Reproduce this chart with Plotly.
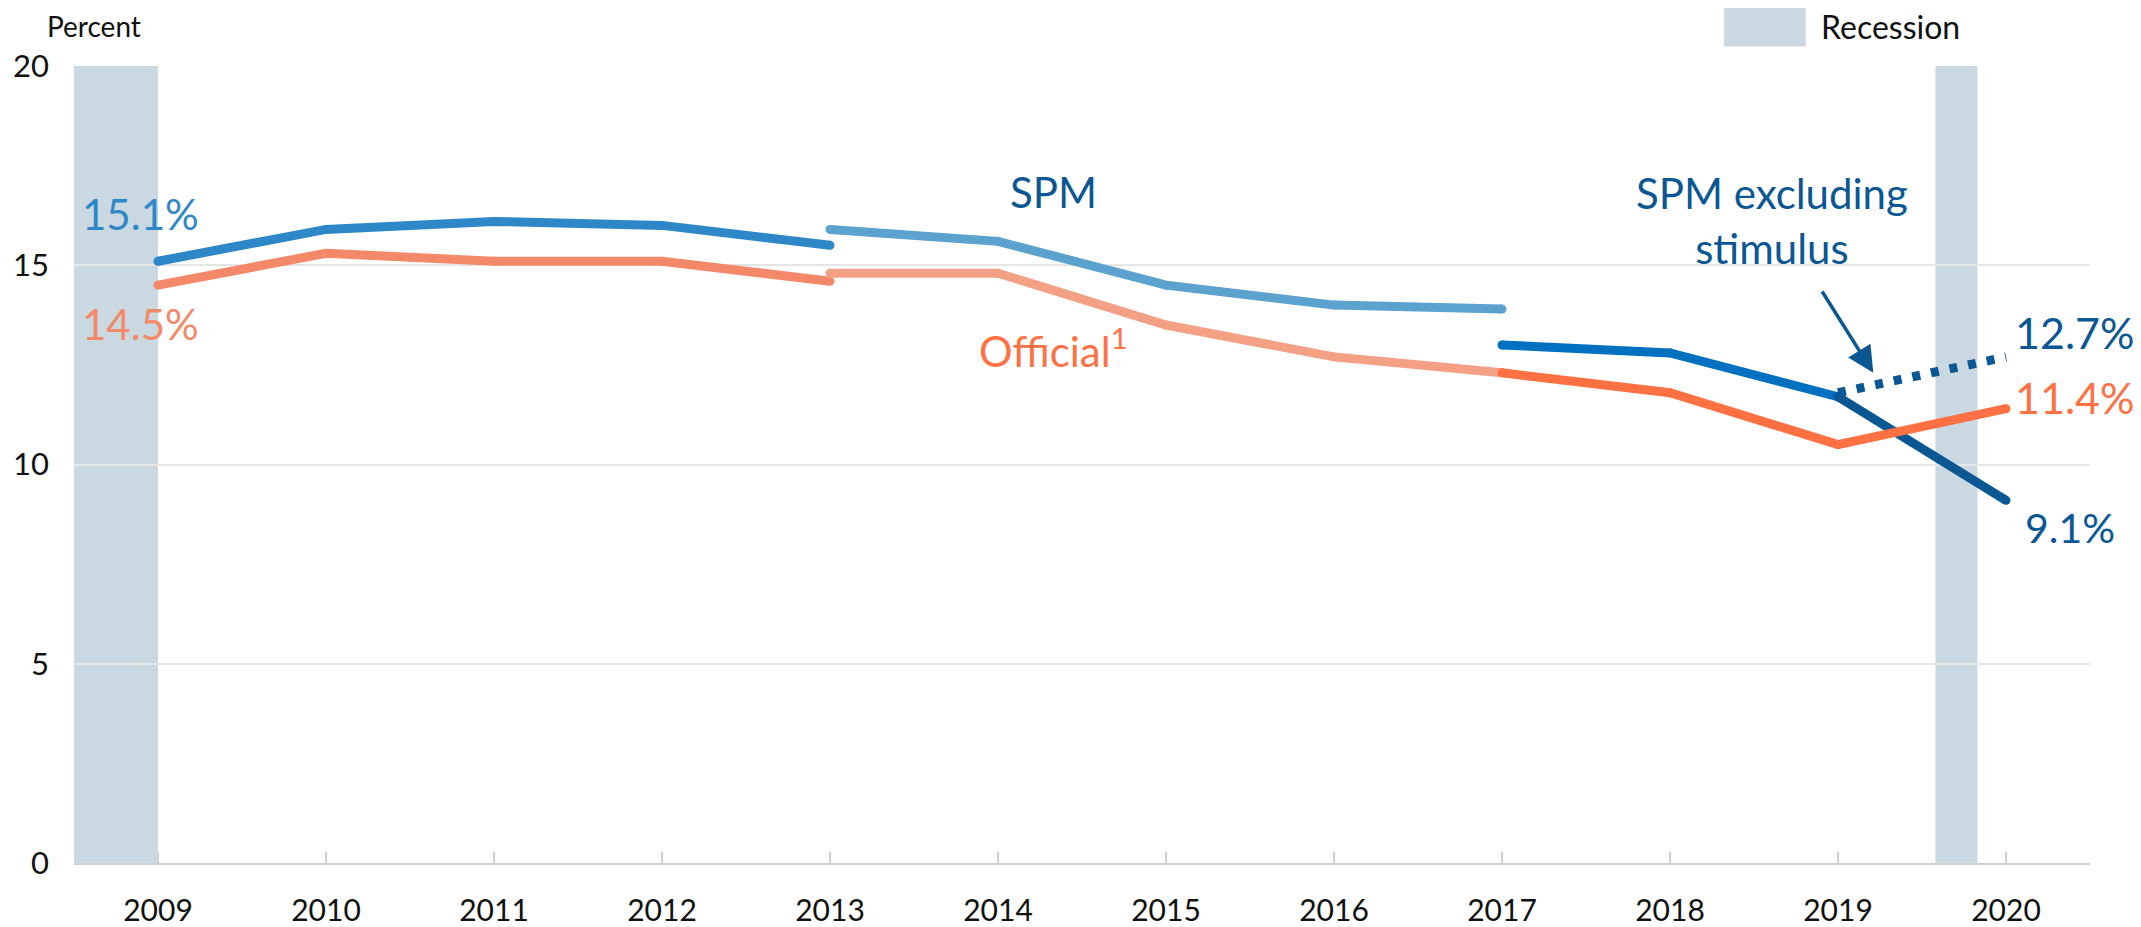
import plotly.graph_objects as go

# ---------------- data ----------------
spm_a_years = [2009, 2010, 2011, 2012, 2013]
spm_a_vals = [15.1, 15.9, 16.1, 16.0, 15.5]
spm_b_years = [2013, 2014, 2015, 2016, 2017]
spm_b_vals = [15.9, 15.6, 14.5, 14.0, 13.9]
spm_c_years = [2017, 2018, 2019]
spm_c_vals = [13.0, 12.8, 11.7]
spm_d_years = [2019, 2020]
spm_d_vals = [11.7, 9.1]
spm_excl_years = [2019, 2020]
spm_excl_vals = [11.8, 12.7]

off_a_years = [2009, 2010, 2011, 2012, 2013]
off_a_vals = [14.5, 15.3, 15.1, 15.1, 14.6]
off_b_years = [2013, 2014, 2015, 2016, 2017]
off_b_vals = [14.8, 14.8, 13.5, 12.7, 12.3]
off_c_years = [2017, 2018, 2019, 2020]
off_c_vals = [12.3, 11.8, 10.5, 11.4]

year_ticks = [2009, 2010, 2011, 2012, 2013, 2014, 2015, 2016, 2017, 2018, 2019, 2020]
year_labels = [str(y) for y in year_ticks]
y_ticks = [0, 5, 10, 15, 20]

recession_starts = [2008.5, 2019.58]
recession_ends = [2009.0, 2019.83]

# ---------------- style ----------------
FONT = "Lato"
C_SPM1 = "#2E88C8"
C_SPM2 = "#5CA2CF"
C_SPM3 = "#0070C0"
C_SPM4 = "#0B5794"
C_OFF1 = "#F4896A"
C_OFF2 = "#F4A085"
C_OFF3 = "#FF7043"
C_REC = "#C9D8E1"
LW = 9

fig = go.Figure()


def add_line(xs, ys, color, dash="solid", round_ends=True):
    fig.add_trace(go.Scatter(x=xs, y=ys, mode="lines+markers" if round_ends else "lines",
                             line=dict(color=color, width=LW, dash=dash),
                             marker=dict(size=LW, color=color, line=dict(width=0)),
                             hoverinfo="skip", showlegend=False))


add_line(spm_a_years, spm_a_vals, C_SPM1)
add_line(spm_b_years, spm_b_vals, C_SPM2)
add_line(spm_c_years, spm_c_vals, C_SPM3)
add_line(spm_excl_years, spm_excl_vals, C_SPM4, dash="8px,11px", round_ends=False)
add_line(off_a_years, off_a_vals, C_OFF1)
add_line(off_b_years, off_b_vals, C_OFF2)
add_line(spm_d_years, spm_d_vals, C_SPM4)
add_line(off_c_years, off_c_vals, C_OFF3)

# recession bands
for s, e in zip(recession_starts, recession_ends):
    fig.add_shape(type="rect", xref="x", yref="y", x0=s, x1=e, y0=0, y1=20,
                  fillcolor=C_REC, line=dict(width=0), layer="below")

# legend swatch for recession
fig.add_shape(type="rect", xref="paper", yref="paper",
              x0=0.8185, x1=0.859, y0=1.0245, y1=1.0746,
              fillcolor=C_REC, line=dict(width=0))
fig.add_annotation(xref="paper", yref="paper", x=0.8655, y=1.0495,
                   text="Recession", showarrow=False, xanchor="left", yanchor="middle",
                   font=dict(family=FONT, size=32, color="#111111"))

# axis title
fig.add_annotation(xref="paper", yref="paper", x=-0.0145, y=1.050,
                   text="Percent", showarrow=False, xanchor="left", yanchor="middle",
                   font=dict(family=FONT, size=28, color="#111111"))


def label(x, y, text, color, xanchor="left", size=42):
    fig.add_annotation(x=x, y=y, xref="x", yref="y", text=text, showarrow=False,
                       xanchor=xanchor, yanchor="middle",
                       font=dict(family=FONT, size=size, color=color))


label(2008.535, 16.29, f"{spm_a_vals[0]:.1f}%", C_SPM1)
label(2008.535, 13.53, f"{off_a_vals[0]:.1f}%", C_OFF1)
label(2020.04, 13.32, f"{spm_excl_vals[-1]:.1f}%", C_SPM4, size=43)
label(2020.04, 11.69, f"{off_c_vals[-1]:.1f}%", C_OFF3, size=43)
label(2020.10, 8.41, f"{spm_d_vals[-1]:.1f}%", C_SPM4, size=41)
label(2014.33, 16.84, "SPM", C_SPM4, xanchor="center")
label(2014.33, 12.92, "Official<sup>1</sup>", C_OFF3, xanchor="center")
label(2018.61, 16.12, "SPM excluding<br>stimulus", C_SPM4, xanchor="center")

# arrow
fig.add_annotation(x=2019.21, y=12.30, ax=2018.90, ay=14.38, xref="x", yref="y",
                   axref="x", ayref="y", text="", showarrow=True,
                   arrowhead=2, arrowsize=1.5, arrowwidth=3.5, arrowcolor=C_SPM4)

# the page adds an 8px body margin, so the figure is 8px smaller each way
fig.update_layout(
    width=2133, height=919,
    margin=dict(l=66, r=51, t=58, b=64),
    paper_bgcolor="white", plot_bgcolor="white",
    font=dict(family=FONT, size=30, color="#111111"),
    showlegend=False,
    xaxis=dict(range=[2008.5, 2020.5], tickmode="array",
               tickvals=year_ticks + [2020.5], ticktext=year_labels + [""],
               showgrid=False, zeroline=False, automargin=False,
               showline=True, linecolor="#D0D0D0", linewidth=2,
               ticks="inside", ticklen=11, tickwidth=2, tickcolor="#D0D0D0",
               ticklabelstandoff=20,
               tickfont=dict(family=FONT, size=30, color="#111111")),
    yaxis=dict(range=[0, 20], tickmode="array", tickvals=y_ticks,
               showgrid=True, gridcolor="#E6E6E6", gridwidth=2,
               zeroline=False, showline=False, ticks="", automargin=False,
               ticklabelstandoff=24,
               tickfont=dict(family=FONT, size=31, color="#111111")),
)

fig.write_html("out.html")
